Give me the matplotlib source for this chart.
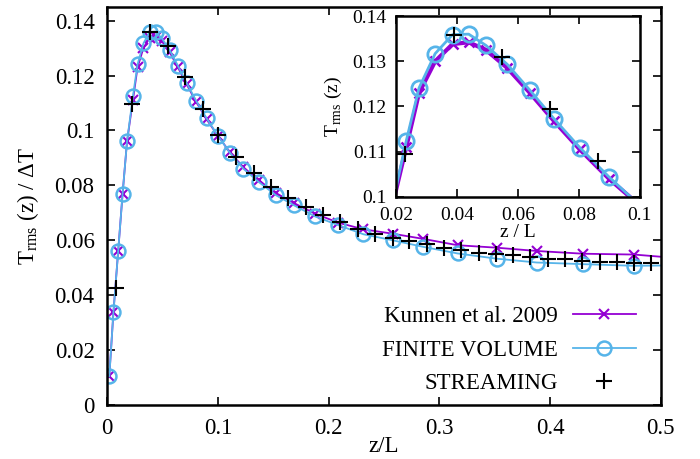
import matplotlib
matplotlib.use('Agg')
import matplotlib.pyplot as plt

plt.rcParams['font.family'] = ['Liberation Serif', 'DejaVu Serif']
plt.rcParams['mathtext.fontset'] = 'custom'
plt.rcParams['mathtext.rm'] = 'Liberation Serif'

# z/L for Kunnen et al. and the finite volume runs
z_fv = [0.002, 0.0057, 0.010, 0.014, 0.018, 0.0233, 0.0275, 0.0328, 0.0385, 0.0438,
        0.0495, 0.0565, 0.0639, 0.0718, 0.0803, 0.0899, 0.1005, 0.111, 0.123, 0.137,
        0.1525, 0.169, 0.1877, 0.2088, 0.2314, 0.2578, 0.2856, 0.3165, 0.3517, 0.388,
        0.430, 0.476, 0.500]
t_fv = [0.0105, 0.0337, 0.056, 0.077, 0.096, 0.1124, 0.1241, 0.1317, 0.1359, 0.1360,
        0.1335, 0.1293, 0.1236, 0.1173, 0.1109, 0.1044, 0.0978, 0.0918, 0.0861, 0.0812,
        0.0764, 0.0727, 0.0687, 0.0655, 0.0622, 0.0600, 0.0576, 0.0552, 0.0533, 0.0519,
        0.0513, 0.0507, 0.0508]
t_kunnen = [0.0105, 0.0337, 0.056, 0.077, 0.096, 0.1110, 0.1230, 0.1300, 0.1338, 0.1342,
            0.1325, 0.1285, 0.1230, 0.1168, 0.1105, 0.1040, 0.0978, 0.0920, 0.0866, 0.0818,
            0.0772, 0.0735, 0.0697, 0.0664, 0.0640, 0.0624, 0.0605, 0.0582, 0.0573, 0.0561,
            0.0551, 0.0548, 0.0540]

# streaming (lattice) results
z_st = [0.0078, 0.0229, 0.0390, 0.0547, 0.0705, 0.0862, 0.1005, 0.1164, 0.1327, 0.148,
        0.1637, 0.1793, 0.1947, 0.2103, 0.2268, 0.2419, 0.2578, 0.2729, 0.2885, 0.3042,
        0.3195, 0.336, 0.3511, 0.3667, 0.3818, 0.3977, 0.4134, 0.429, 0.445, 0.4606,
        0.4759, 0.4915]
t_st = [0.0428, 0.1096, 0.1358, 0.1309, 0.1195, 0.1079, 0.0982, 0.0905, 0.0845, 0.0794,
        0.0755, 0.0721, 0.0691, 0.0667, 0.0642, 0.0624, 0.0609, 0.0598, 0.0588, 0.0572,
        0.0564, 0.0555, 0.0549, 0.0545, 0.0539, 0.0533, 0.0530, 0.0525, 0.0522, 0.0521,
        0.0519, 0.0519]

purple = '#9400d3'
blue = '#56b4e9'
mk = slice(0, -1)


def style(ax, size, pad):
    ax.tick_params(direction='in', top=True, right=True, length=6, width=1.2,
                   labelsize=size, pad=pad)
    for s in ax.spines.values():
        s.set_linewidth(1.8)


fig = plt.figure(figsize=(7, 4.59), dpi=100)
ax = fig.add_axes([0.153, 0.1176, 0.791, 0.8674])

ax.plot(z_fv, t_kunnen, color=purple, lw=1.3, marker='x', ms=7, mew=1.5, markevery=mk,
        label='Kunnen et al. 2009')
ax.plot(z_fv, t_fv, color=blue, lw=1.3, marker='o', ms=10, mfc='none', mew=1.8, markevery=mk,
        label='FINITE VOLUME')
ax.plot(z_st, t_st, ls='none', color='black', marker='+', ms=11, mew=1.5, label='STREAMING')

ax.set_xlim(0, 0.5)
ax.set_ylim(0, 0.145)
ax.set_xticks([0, 0.1, 0.2, 0.3, 0.4, 0.5])
ax.set_xticklabels(['0', '0.1', '0.2', '0.3', '0.4', '0.5'])
ax.set_yticks([0, 0.02, 0.04, 0.06, 0.08, 0.1, 0.12, 0.14])
ax.set_yticklabels(['0', '0.02', '0.04', '0.06', '0.08', '0.1', '0.12', '0.14'])
style(ax, 16.5, 9)
ax.set_xlabel('z/L', fontsize=16.5, labelpad=-2)
ax.set_ylabel(r'T$_{\mathrm{rms}}$ (z) / $\Delta$T', fontsize=16.5, labelpad=10)

leg = ax.legend(loc='lower right', bbox_to_anchor=(0.955, 0.028), markerfirst=False,
                frameon=False, fontsize=16.5, handlelength=2.75, labelspacing=0.53,
                handletextpad=0.65, borderaxespad=0, borderpad=0)

# inset zoom on the peak
ins = fig.add_axes([0.566, 0.571, 0.348, 0.394])
ins.plot(z_fv, t_kunnen, color=purple, lw=3, marker='x', ms=7, mew=1.8)
ins.plot(z_fv, t_fv, color=blue, lw=2, marker='o', ms=11, mfc='none', mew=2)
ins.plot(z_st, t_st, ls='none', color='black', marker='+', ms=12, mew=1.5)
ins.set_xlim(0.02, 0.1)
ins.set_ylim(0.1, 0.14)
ins.set_xticks([0.02, 0.04, 0.06, 0.08, 0.1])
ins.set_xticklabels(['0.02', '0.04', '0.06', '0.08', '0.1'])
ins.set_yticks([0.1, 0.11, 0.12, 0.13, 0.14])
ins.set_yticklabels(['0.1', '0.11', '0.12', '0.13', '0.14'])
style(ins, 14, 7)
ins.set_xlabel('z / L', fontsize=14, labelpad=0)
ins.set_ylabel(r'T$_{\mathrm{rms}}$ (z)', fontsize=14, labelpad=6)

fig.savefig('out.png', dpi=100)
